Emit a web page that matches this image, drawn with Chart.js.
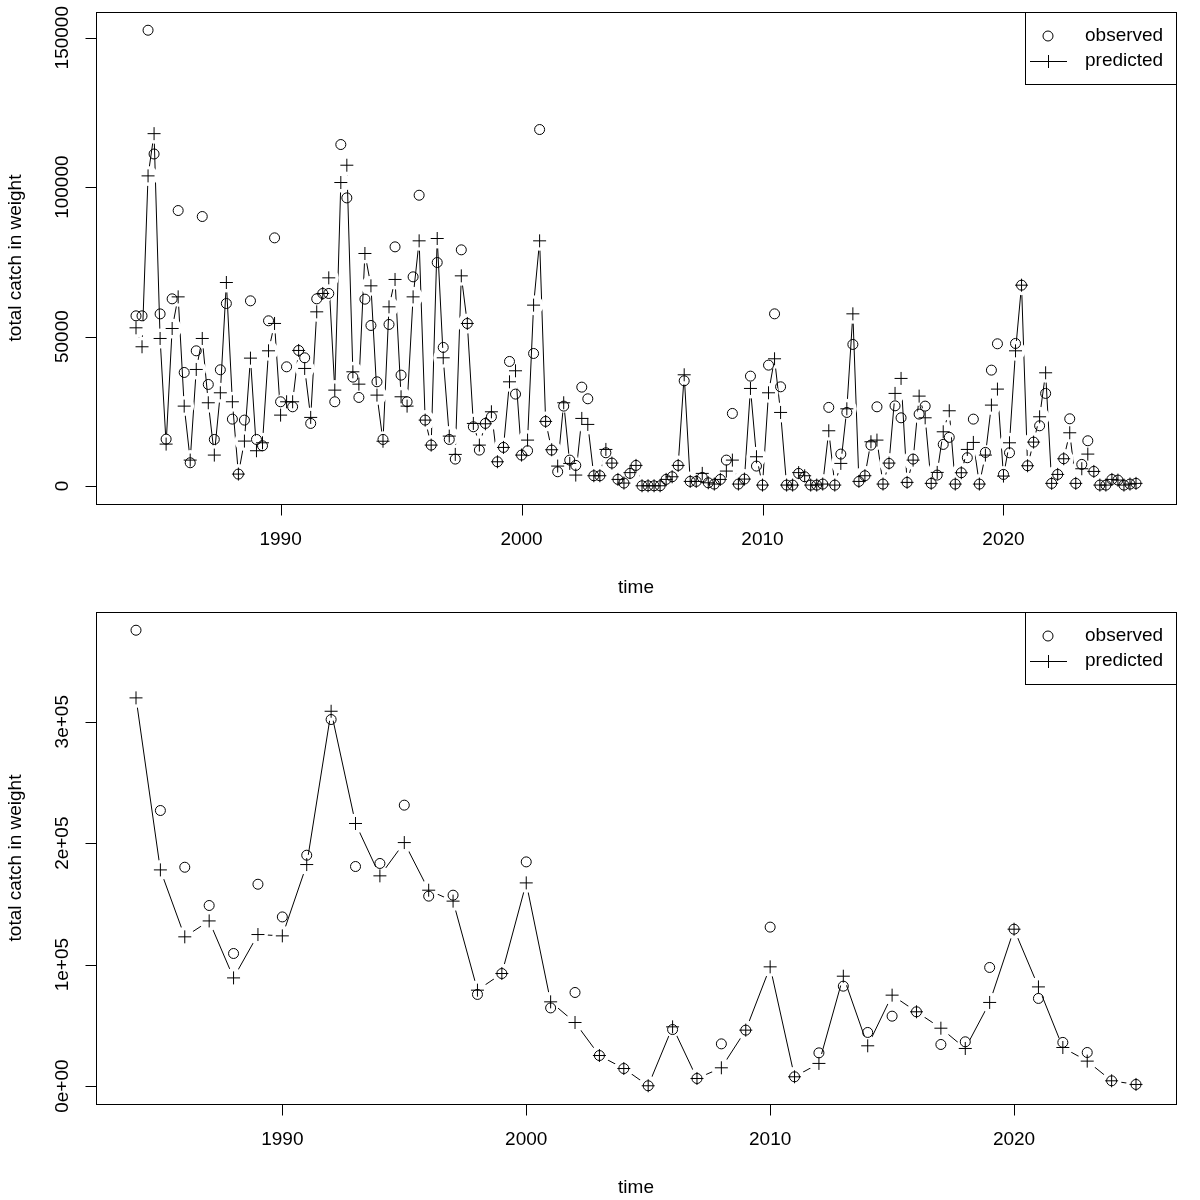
<!DOCTYPE html>
<html>
<head>
<meta charset="utf-8">
<script src="https://cdn.jsdelivr.net/npm/chart.js@4.4.1/dist/chart.umd.min.js"></script>
<style>
  body { margin: 0; background: #fff; }
  canvas { display: block; }
</style>
</head>
<body>
<canvas id="quarterChart" width="1200" height="600"></canvas>
<canvas id="yearChart" width="1200" height="600"></canvas>
<script>
// quarterly series, first value is 1984 Q1
const quarterStart = 1984;
const quarterObserved = [
  56950, 56950, 152500, 111100, 57600, 15700, 62640, 92180, 38010, 7800,
  45250, 90180, 34000, 15600, 38900, 61080, 22400, 4010, 22070, 61970,
  15600, 13480, 55290, 83040, 28200, 39900, 26520, 45370, 42910, 20960,
  62640, 64430, 64430, 28200, 114260, 96410, 36450, 29650, 62530, 53730,
  34880, 15600, 54070, 80030, 37120, 28200, 70000, 97300, 22070, 13710,
  74800, 46380, 15600, 9030, 79030, 54400, 19840, 12040, 20960, 23180,
  8130, 12930, 41690, 30770, 10370, 11820, 44360, 119280, 21630, 12040,
  4790, 26750, 8690, 6910, 33100, 29200, 3460, 3460, 11140, 7690,
  2230, 1000, 4240, 6910, 100, 100, 100, 100, 2230, 3120,
  6910, 35220, 1560, 1560, 2900, 1100, 670, 2230, 8690, 24300,
  670, 2340, 36780, 6690, 330, 40460, 57620, 33210, 330, 330,
  4240, 3120, 330, 330, 670, 26320, 330, 10700, 24630, 47380,
  1560, 3460, 13710, 26520, 670, 7580, 26850, 22840, 1230, 9030,
  24080, 26750, 900, 3680, 13940, 16290, 670, 4460, 9480, 22400,
  670, 11260, 38790, 47600, 3900, 11140, 47710, 67210, 6800, 14710,
  20170, 31000, 900, 3900, 9140, 22510, 900, 7250, 15160, 4900,
  330, 330, 2230, 2000, 330, 670, 900
];
const quarterPredicted = [
  52940, 46600, 103770, 117900, 49380, 14040, 52720, 63300, 26750, 8690,
  39010, 49380, 27870, 10370, 31210, 68100, 28200, 4010, 15050, 42800,
  11820, 14480, 45250, 54400, 23740, 28200, 28200, 45370, 39350, 22970,
  58290, 64430, 69660, 32100, 101550, 107340, 38230, 34100, 77810, 66990,
  30430, 15000, 59960, 69120, 29870, 26750, 63300, 82040, 22070, 13710,
  82820, 42910, 16720, 10590, 70330, 54400, 20960, 13710, 20850, 24850,
  8130, 12930, 34880, 38570, 10370, 15380, 60530, 82040, 21630, 12150,
  6690, 27870, 7580, 3680, 22630, 20630, 3460, 3460, 12260, 7690,
  2230, 1000, 4500, 6910, 100, 100, 100, 100, 2230, 3120,
  6910, 37230, 1560, 1560, 4240, 1100, 670, 2230, 5020, 8690,
  670, 2340, 32660, 9810, 330, 31210, 42580, 24630, 330, 330,
  4500, 3450, 330, 330, 670, 18500, 330, 7580, 25850, 57620,
  1560, 3460, 14820, 15380, 670, 7690, 31000, 36010, 1230, 8690,
  30100, 22840, 900, 4570, 18160, 25190, 670, 4460, 12260, 14600,
  670, 10370, 27090, 32440, 3350, 14480, 45250, 67210, 6800, 14710,
  23180, 37900, 900, 3900, 9140, 17830, 900, 5800, 10700, 4900,
  330, 330, 2230, 2000, 330, 670, 900
];

// yearly totals, first value is 1984
const yearStart = 1984;
const yearObserved = [
  375300, 226900, 180200, 148700, 109200, 166200, 139300, 190100, 301800, 180800,
  183300, 231300, 156400, 157200, 75500, 92700, 184600, 64400, 77100, 25200,
  14500, 300, 46600, 6300, 34800, 46100, 130900, 7700, 27400, 82300,
  44200, 57600, 61200, 34300, 36500, 97700, 129200, 72200, 36000, 27700,
  4400, 1400
];
const yearPredicted = [
  319600, 178000, 122900, 136000, 89100, 124800, 123700, 182400, 308600, 216200,
  173100, 200500, 161300, 152300, 79000, 92700, 167300, 69400, 52400, 25200,
  14500, 300, 48800, 6300, 15100, 46100, 98200, 7700, 18700, 90500,
  33200, 74900, 61200, 47700, 31000, 68900, 129200, 81700, 31800, 20600,
  4400, 1400
];

const xTicks = [1990, 2000, 2010, 2020];
const quarterYTicks = [0, 50000, 100000, 150000];
const quarterYLabels = ['0', '50000', '100000', '150000'];
const yearYTicks = [0, 100000, 200000, 300000];
const yearYLabels = ['0e+00', '1e+05', '2e+05', '3e+05'];
const legendLabels = ['observed', 'predicted'];
const xTitle = 'time';
const yTitle = 'total catch in weight';

const FONT = '19px "Liberation Sans", Arial, Helvetica, sans-serif';

// R style: box, outside ticks, rotated y labels, legend in the top right corner
const rAxes = {
  id: 'rAxes',
  afterDraw(chart, args, opts) {
    const ctx = chart.ctx;
    const a = chart.chartArea;
    const xs = chart.scales.x;
    const ys = chart.scales.y;
    ctx.save();
    ctx.strokeStyle = '#000';
    ctx.fillStyle = '#000';
    ctx.lineWidth = 1;
    ctx.strokeRect(Math.round(a.left) + 0.5, Math.round(a.top) + 0.5,
      Math.round(a.right - a.left), Math.round(a.bottom - a.top));

    ctx.font = FONT;
    ctx.textAlign = 'center';
    ctx.textBaseline = 'middle';

    // x axis
    const yb = Math.round(a.bottom) + 0.5;
    ctx.beginPath();
    xTicks.forEach(t => {
      const px = Math.round(xs.getPixelForValue(t)) + 0.5;
      ctx.moveTo(px, yb);
      ctx.lineTo(px, yb + 11);
    });
    ctx.stroke();
    xTicks.forEach(t => ctx.fillText(String(t), xs.getPixelForValue(t), a.bottom + 36));
    ctx.fillText(xTitle, (a.left + a.right) / 2, a.bottom + 84);

    // y axis
    const xl = Math.round(a.left) + 0.5;
    ctx.beginPath();
    opts.yTicks.forEach(v => {
      const py = Math.round(ys.getPixelForValue(v)) + 0.5;
      ctx.moveTo(xl, py);
      ctx.lineTo(xl - 11, py);
    });
    ctx.stroke();
    opts.yTicks.forEach((v, i) => {
      ctx.save();
      ctx.translate(a.left - 33, ys.getPixelForValue(v));
      ctx.rotate(-Math.PI / 2);
      ctx.fillText(opts.yLabels[i], 0, 0);
      ctx.restore();
    });
    ctx.save();
    ctx.translate(a.left - 80, (a.top + a.bottom) / 2);
    ctx.rotate(-Math.PI / 2);
    ctx.fillText(yTitle, 0, 0);
    ctx.restore();

    // legend
    const lw = 151, lh = 72;
    const lx = Math.round(a.right) - lw, ly = Math.round(a.top);
    ctx.fillStyle = '#fff';
    ctx.fillRect(lx, ly, lw, lh);
    ctx.fillStyle = '#000';
    ctx.strokeRect(lx + 0.5, ly + 0.5, lw, lh);
    ctx.beginPath();
    ctx.arc(lx + 23, ly + 24, 5, 0, Math.PI * 2);
    ctx.stroke();
    ctx.beginPath();
    ctx.moveTo(lx + 5, ly + 49.5);
    ctx.lineTo(lx + 42, ly + 49.5);
    ctx.moveTo(lx + 23.5, ly + 43);
    ctx.lineTo(lx + 23.5, ly + 56);
    ctx.stroke();
    ctx.textAlign = 'left';
    ctx.fillText(legendLabels[0], lx + 60, ly + 24);
    ctx.fillText(legendLabels[1], lx + 60, ly + 49);
    ctx.restore();
  }
};

function padRange(vals) {
  const lo = Math.min(...vals), hi = Math.max(...vals);
  const d = (hi - lo) * 0.04;
  return [lo - d, hi + d];
}

function makeChart(id, times, observed, predicted, yTicks, yLabels) {
  const obsPts = times.map((t, i) => ({ x: t, y: observed[i] }));
  const predPts = times.map((t, i) => ({ x: t, y: predicted[i] }));
  const xr = padRange(times);
  const yr = padRange(observed.concat(predicted));
  return new Chart(document.getElementById(id), {
    type: 'scatter',
    data: {
      datasets: [
        {
          // line of the predicted values; white discs cut the line near each point like type="b"
          data: predPts,
          showLine: true,
          borderColor: '#000',
          borderWidth: 1,
          pointRadius: 10,
          pointHoverRadius: 10,
          pointBackgroundColor: '#fff',
          pointBorderWidth: 0,
          order: 3
        },
        {
          data: obsPts,
          pointStyle: 'circle',
          pointRadius: 5,
          pointHoverRadius: 5,
          pointBorderColor: '#000',
          pointBackgroundColor: 'rgba(0,0,0,0)',
          pointBorderWidth: 1,
          order: 2
        },
        {
          data: predPts,
          pointStyle: 'cross',
          pointRadius: 6.5,
          pointHoverRadius: 6.5,
          pointBorderColor: '#000',
          pointBorderWidth: 1,
          order: 1
        }
      ]
    },
    options: {
      responsive: false,
      animation: false,
      devicePixelRatio: 1,
      events: [],
      layout: { padding: { left: 96, right: 24, top: 12, bottom: 96 } },
      scales: {
        x: { type: 'linear', min: xr[0], max: xr[1], display: false },
        y: { type: 'linear', min: yr[0], max: yr[1], display: false }
      },
      plugins: {
        legend: { display: false },
        tooltip: { enabled: false },
        rAxes: { yTicks: yTicks, yLabels: yLabels }
      }
    },
    plugins: [rAxes]
  });
}

const quarterTimes = quarterObserved.map((v, i) => quarterStart + i / 4);
const yearTimes = yearObserved.map((v, i) => yearStart + i);

makeChart('quarterChart', quarterTimes, quarterObserved, quarterPredicted, quarterYTicks, quarterYLabels);
makeChart('yearChart', yearTimes, yearObserved, yearPredicted, yearYTicks, yearYLabels);
</script>
</body>
</html>
